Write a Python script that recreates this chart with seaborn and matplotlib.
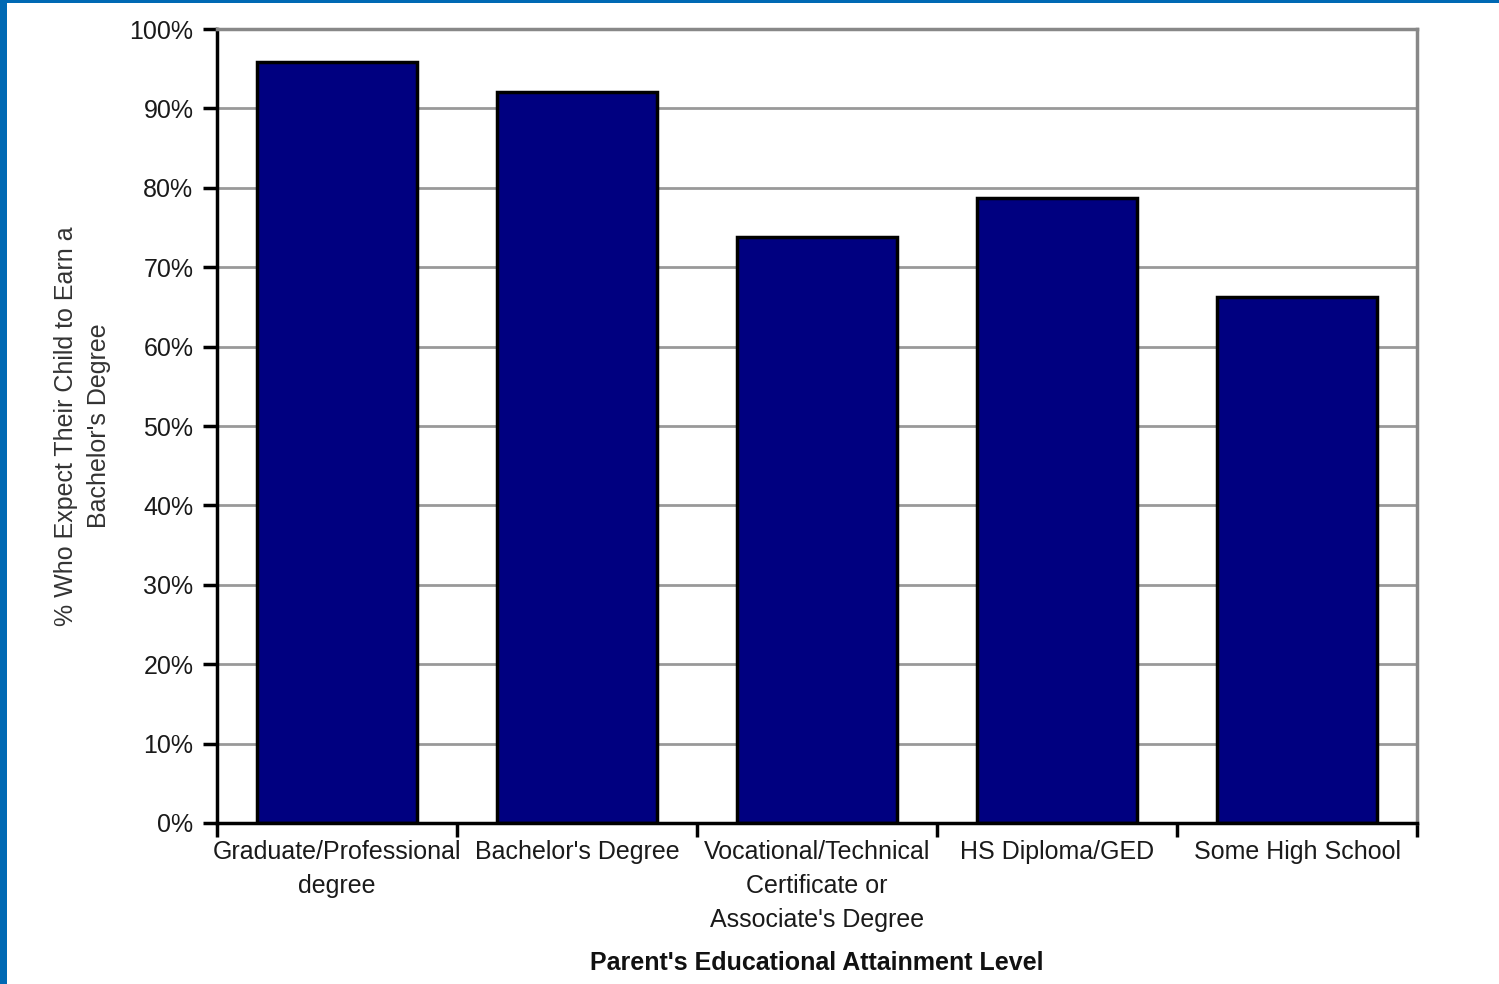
import matplotlib
matplotlib.use("Agg")
import matplotlib.pyplot as plt
import matplotlib.ticker as mticker
from matplotlib.patches import Rectangle
import seaborn as sns
import pandas as pd

# Parent education categories and share expecting a bachelor's degree (%)
categories = [
    "Graduate/Professional\ndegree",
    "Bachelor's Degree",
    "Vocational/Technical\nCertificate or\nAssociate's Degree",
    "HS Diploma/GED",
    "Some High School",
]
values = [95.8, 92.1, 73.8, 78.7, 66.3]
y_ticks = list(range(0, 101, 10))

sns.set_theme(style="white")
plt.rcParams["font.family"] = ["Liberation Sans", "DejaVu Sans"]

df = pd.DataFrame({"level": categories, "pct": values})

fig = plt.figure(figsize=(14.99, 9.84), dpi=100)
ax = fig.add_axes([217 / 1499, 161 / 984, 1200 / 1499, 794 / 984])

# blue frame along the top and left edges of the figure
fig.patches.append(Rectangle((0, 1 - 3 / 984), 1, 3 / 984, transform=fig.transFigure,
                             facecolor="#0069B4", edgecolor="none", zorder=0))
fig.patches.append(Rectangle((0, 0), 7 / 1499, 1, transform=fig.transFigure,
                             facecolor="#0069B4", edgecolor="none", zorder=0))

sns.barplot(data=df, x="level", y="pct", ax=ax, color="#000080", saturation=1,
            edgecolor="black", linewidth=2.5, width=0.667, zorder=3)

ax.set_ylim(0, 100)
ax.set_xlim(-0.5, len(categories) - 0.5)
ax.set_yticks(y_ticks)
ax.yaxis.set_major_formatter(mticker.FuncFormatter(lambda v, p: f"{int(v)}%"))

# gridlines
ax.yaxis.grid(True, color="#999999", linewidth=2)
ax.set_axisbelow(True)

# spines
for side in ["left", "bottom"]:
    ax.spines[side].set_color("black")
    ax.spines[side].set_linewidth(2.5)
for side in ["top", "right"]:
    ax.spines[side].set_color("#888888")
    ax.spines[side].set_linewidth(2.5)
ax.spines["bottom"].set_zorder(5)

# ticks: y outward, x ticks at category boundaries
ax.tick_params(axis="y", which="major", direction="out", length=10, width=2.5,
               color="black", left=True, pad=7, labelsize=18, labelcolor="#1a1a1a")
ax.tick_params(axis="x", which="major", length=0, pad=12, labelsize=18,
               labelcolor="#1a1a1a")
ax.set_xticks([i - 0.5 for i in range(len(categories) + 1)], minor=True)
ax.tick_params(axis="x", which="minor", direction="out", length=10, width=2.5,
               color="black", bottom=True)
for lbl in ax.get_xticklabels():
    lbl.set_linespacing(1.53)
    lbl.set_verticalalignment("top")

ax.set_xlabel("Parent's Educational Attainment Level", fontsize=18,
              fontweight="bold", color="#111111", labelpad=14)
ax.set_ylabel("% Who Expect Their Child to Earn a\nBachelor's Degree", fontsize=18,
              color="#333333", labelpad=13, linespacing=1.5)

fig.savefig("out.png", dpi=100, facecolor="white")
